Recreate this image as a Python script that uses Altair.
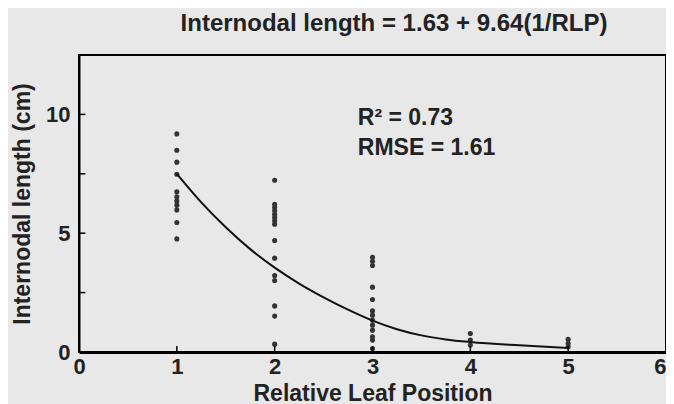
import altair as alt
import pandas as pd

# Observed internodal lengths (cm) by relative leaf position
pos1 = [9.18, 8.49, 7.99, 7.48, 6.74, 6.53, 6.36, 6.18, 5.98, 5.45, 4.76]
pos2 = [7.23, 6.22, 6.08, 5.94, 5.80, 5.66, 5.52, 5.38, 4.69, 3.95, 3.22, 3.01, 1.94, 1.51, 0.33]
pos3 = [3.99, 3.82, 3.64, 2.73, 2.21, 1.73, 1.55, 1.34, 1.13, 0.92, 0.64, 0.50, 0.15]
pos4 = [0.78, 0.50, 0.29]
pos5 = [0.53, 0.36, 0.22]

# Fitted curve
curve_x = [1, 1.25, 1.5, 1.75, 2, 2.25, 2.5, 2.75, 3, 3.25, 3.5, 3.75, 4, 4.5, 5]
curve_y = [7.5, 6.3, 5.25, 4.33, 3.55, 2.88, 2.3, 1.78, 1.32, 0.96, 0.7, 0.53, 0.42, 0.28, 0.17]

x_ticks = [0, 1, 2, 3, 4, 5, 6]
y_ticks = [0, 5, 10]
x_minor = [1, 2, 3, 4, 5]
y_minor = [2.5, 5, 7.5, 10]

title_text = "Internodal length = 1.63 + 9.64(1/RLP)"
labels = ["R\u00b2 = 0.73", "RMSE = 1.61"]
label_x = [2.85, 2.85]
label_y = [9.83, 8.58]

rows = []
for p, vals in zip([1, 2, 3, 4, 5], [pos1, pos2, pos3, pos4, pos5]):
    for v in vals:
        rows.append({"rlp": p, "len": v})
pts = pd.DataFrame(rows)
curve = pd.DataFrame({"rlp": curve_x, "len": curve_y})
ann = pd.DataFrame({"t": labels, "x": label_x, "y": label_y})
xt = pd.DataFrame({"x": x_minor, "y0": [0.0] * len(x_minor), "y1": [0.25] * len(x_minor)})
yt = pd.DataFrame({"y": y_minor, "x0": [0.0] * len(y_minor), "x1": [0.065] * len(y_minor)})

FONT = "Liberation Sans"
xscale = alt.Scale(domain=[0, 6], nice=False, zero=False)
yscale = alt.Scale(domain=[0, 12.5], nice=False)

xaxis = alt.Axis(values=x_ticks, format="d", ticks=False, grid=False, domain=True,
                 domainColor="black", domainWidth=3, labelFont=FONT, labelFontSize=22,
                 labelFontWeight="bold", labelColor="#222", labelPadding=4,
                 labelAlign={"condition": {"test": "datum.value == 6", "value": "right"},
                             "value": "center"},
                 title="Relative Leaf Position", titleFont=FONT, titleFontSize=23,
                 titleFontWeight="bold", titleColor="#222", titleY=41,
                 titleBaseline="middle", labelFlush=False)
yaxis = alt.Axis(values=y_ticks, format="d", ticks=False, grid=False, domain=True,
                 domainColor="black", domainWidth=2, labelFont=FONT, labelFontSize=22,
                 labelFontWeight="bold", labelColor="#222", labelPadding=9,
                 labelAlign="right", labelBaseline="middle",
                 title="Internodal length (cm)", titleFont=FONT, titleFontSize=23,
                 titleFontWeight="bold", titleColor="#222", titleX=-57,
                 titleBaseline="middle", titleAngle=-90)

points = alt.Chart(pts).mark_circle(size=26, color="#333", opacity=1).encode(
    x=alt.X("rlp:Q", scale=xscale, axis=xaxis),
    y=alt.Y("len:Q", scale=yscale, axis=yaxis),
)
line = alt.Chart(curve).mark_line(color="#111", strokeWidth=2, interpolate="monotone").encode(
    x=alt.X("rlp:Q", scale=xscale),
    y=alt.Y("len:Q", scale=yscale),
)
xticks = alt.Chart(xt).mark_rule(color="black", strokeWidth=1.5).encode(
    x=alt.X("x:Q", scale=xscale), y=alt.Y("y0:Q", scale=yscale), y2="y1:Q"
)
yticks = alt.Chart(yt).mark_rule(color="black", strokeWidth=1.5).encode(
    y=alt.Y("y:Q", scale=yscale), x=alt.X("x0:Q", scale=xscale), x2="x1:Q"
)
text = alt.Chart(ann).mark_text(align="left", baseline="middle", font=FONT, fontSize=23,
                                fontWeight="bold", color="#222").encode(
    x=alt.X("x:Q", scale=xscale), y=alt.Y("y:Q", scale=yscale), text="t:N"
)
title = alt.Chart(pd.DataFrame({"t": [title_text]})).mark_text(
    align="center", baseline="alphabetic", font=FONT, fontSize=24,
    fontWeight="bold", color="#222").encode(
    x=alt.value(315), y=alt.value(-24), text="t:N"
)

chart = alt.layer(points, line, xticks, yticks, text, title).properties(
    width=587, height=297,
    autosize=alt.AutoSizeParams(type="none"),
    padding={"left": 71, "top": 47, "right": 0, "bottom": 52},
).configure(background="#e8e8e8").configure_view(stroke="black", strokeWidth=2)

chart.save("out.html", embed_options={"renderer": "svg", "actions": False})
